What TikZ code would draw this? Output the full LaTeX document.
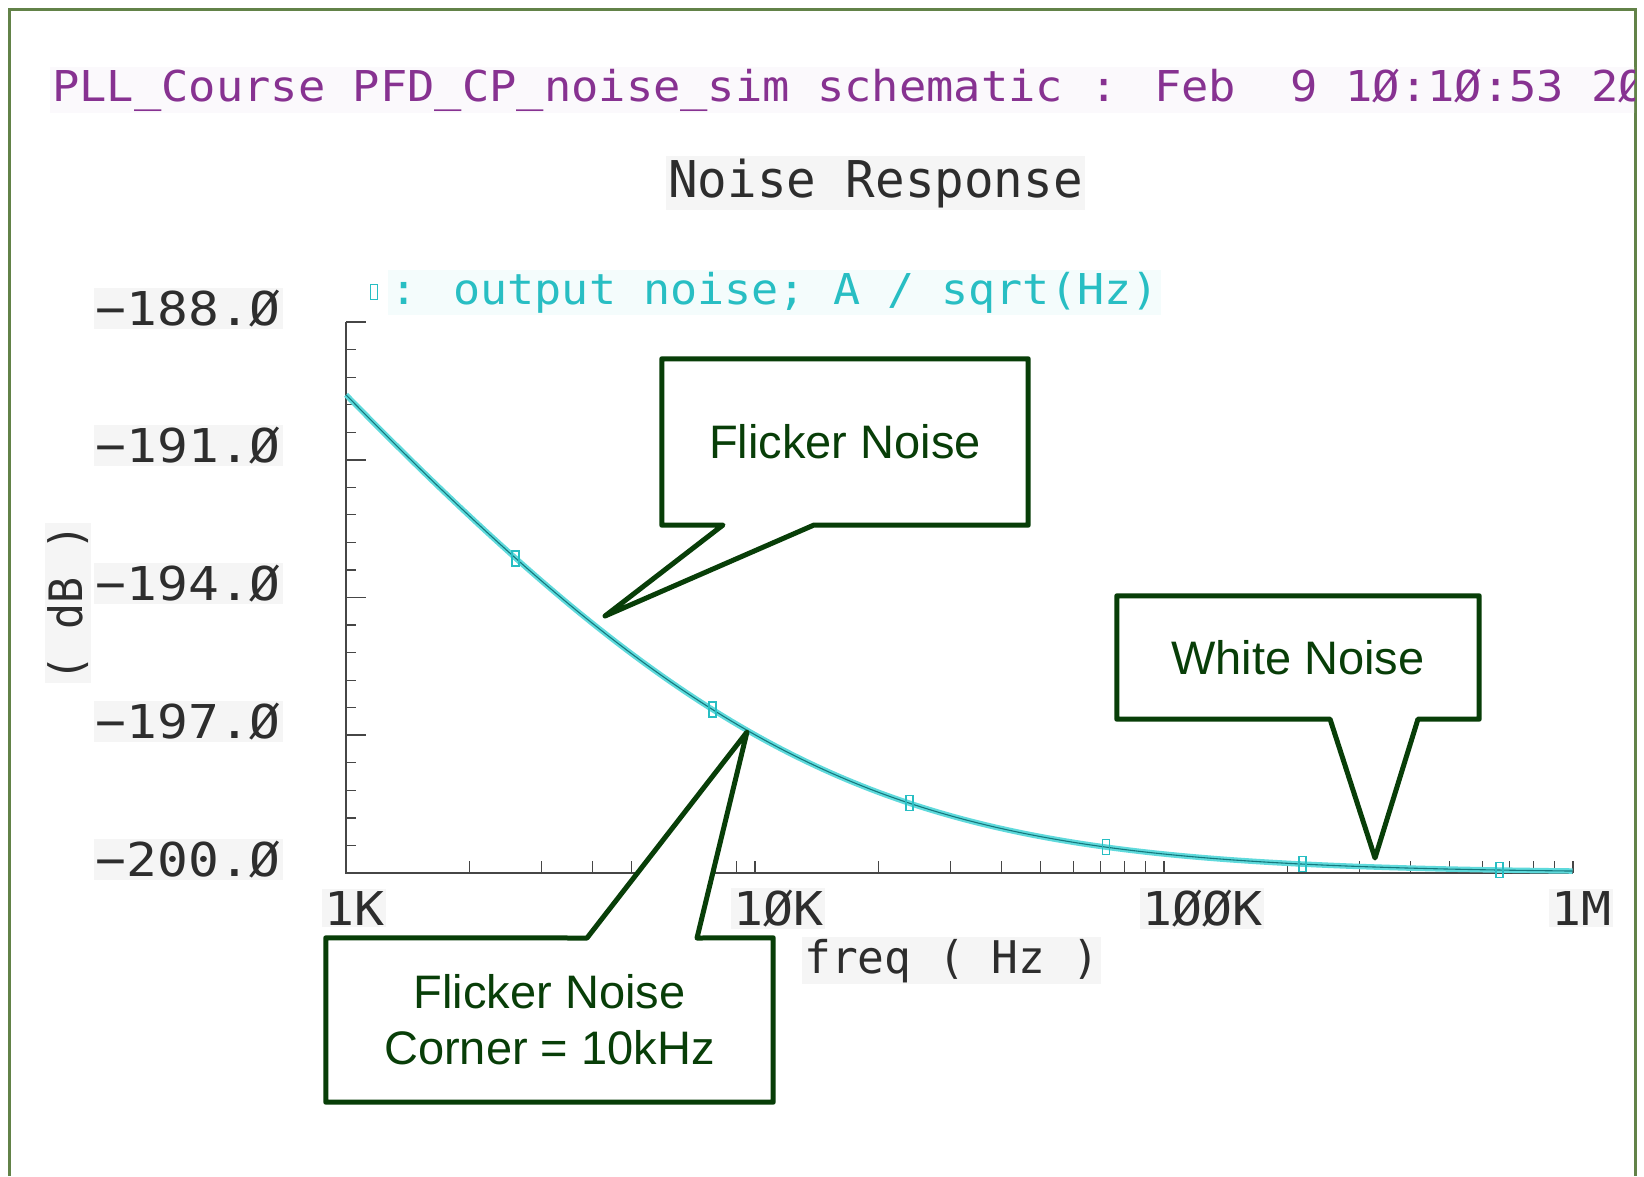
\documentclass[tikz,border=0pt]{standalone}
\usepackage{fontspec}
\setmainfont{Liberation Sans}
\newfontfamily\cadfont{DejaVu Sans Mono}
\usetikzlibrary{calc}
\definecolor{frameg}{RGB}{98,130,72}
\definecolor{callg}{RGB}{8,62,8}
\definecolor{titlem}{RGB}{135,50,145}
\definecolor{legc}{RGB}{40,190,195}
\definecolor{curvec}{RGB}{95,218,220}
\definecolor{curved}{RGB}{20,120,125}
\definecolor{axisg}{RGB}{70,70,70}
\definecolor{labelk}{RGB}{45,45,45}
\newcommand{\cadtext}[3]{\scalebox{#2}[1]{\fontsize{#1}{#1}\cadfont #3}}
\begin{document}
\begin{tikzpicture}[x=1pt,y=-1pt,
  lab/.style={inner sep=2, text=labelk, fill=black!4},
  marker/.style={draw=legc, line width=1.6, minimum width=7, minimum height=15, inner sep=0},
  cbox/.style={inner sep=0, draw=none},
  callout/.style={draw=callg, line width=5, fill=white, line join=round},
  calltext/.style={text=callg, font=\fontsize{47}{56}\selectfont, align=center, inner sep=0},
  axisline/.style={draw=axisg, line width=1.6}]
\useasboundingbox (0,0) rectangle (1644,1176);
\fill[white] (0,0) rectangle (1644,1176);
% frame
\draw[frameg, line width=3] (9,1176) -- (9,9) -- (1635,9) -- (1635,1176);
% title
\begin{scope}
\clip (10,10) rectangle (1634,1176);
\node[anchor=base west, inner sep=2, text=titlem, fill=titlem!3] (title) at (50,101)
  {\cadtext{42.5}{1.068}{PLL\_Course PFD\_CP\_noise\_sim schematic : Feb\ \ 9 1Ø:1Ø:53 2Ø}};
\end{scope}
\node[lab, anchor=base west] (heading) at (666,197) {\cadtext{50.7}{0.97}{Noise Response}};
% legend
\node[marker] (legmark) at (374,292) {};
\node[anchor=base west, inner sep=2, text=legc, fill=legc!5] (legtext) at (388,304)
  {\cadtext{42.5}{1.06}{: output noise; A / sqrt(Hz)}};
% axes
\coordinate (ytop) at (346,322);
\coordinate (origin) at (346,873);
\coordinate (xend) at (1573,873);
\draw[axisline] (ytop) -- (origin) -- (xend);
\foreach \k in {0,...,20}{
  \draw[axisline, line width=1.2] (346,{322+27.55*\k}) -- (356,{322+27.55*\k});
}
\foreach \k in {0,...,4}{
  \draw[axisline] (346,{322+137.75*\k}) -- (366,{322+137.75*\k});
}
\foreach \d in {0,1,2}{
  \foreach \m in {2,...,10}{
    \draw[axisline, line width=1.2] ({346+409*(\d+log10(\m))},873) -- ({346+409*(\d+log10(\m))},861);
  }
}
% y labels
\foreach \v/\k in {188/0,191/1,194/2,197/3,200/4}{
  \node[lab, anchor=base east] (yl\k) at (283,{322+137.75*\k+3}) {\cadtext{46.6}{1.1}{−\v.Ø}};
}
% x labels
\foreach \t/\k in {1K/0,1ØK/1,1ØØK/2,1M/3}{
  \node[lab, anchor=base west] (xl\k) at ({346+409*\k-24},925) {\cadtext{46.6}{1.07}{\t}};
}
\node[lab, anchor=base west] (xtitle) at (802,973) {\cadtext{45}{0.99}{freq ( Hz )}};
\node[lab, rotate=90] (ytitle) at (68,603) {\cadtext{46}{0.94}{( dB )}};
% curve
\draw[curvec, line width=5.5] plot[domain=0:3, samples=160] ({346+409*\x},{873-459.2*log10(1+10^(1-\x))});
\draw[curved, line width=1.1] plot[domain=0:3, samples=160] ({346+409*\x},{873-459.2*log10(1+10^(1-\x))});
\foreach \k in {0,...,5}{
  \pgfmathsetmacro\u{0.415+0.481*\k}
  \pgfmathsetmacro\mx{346+409*\u}
  \pgfmathsetmacro\my{873-459.2*log10(1+10^(1-\u))}
  \node[marker] (m\k) at (\mx,\my) {};
}
% callout: Flicker Noise
\node[cbox, minimum width=366, minimum height=166] (fnbox) at (845,442) {};
\coordinate (fnL) at (723,525);
\coordinate (fnR) at (814,525);
\coordinate (fnTip) at (605,616);
\draw[callout] (fnbox.north west) -- (fnbox.north east) -- (fnbox.south east) -- (fnR) -- (fnTip) -- (fnL) -- (fnbox.south west) -- cycle;
\node[calltext] (fn) at (fnbox.center) {Flicker Noise};
% callout: White Noise
\node[cbox, minimum width=362, minimum height=123] (wnbox) at (1298,657.5) {};
\coordinate (wnL) at (1330,719);
\coordinate (wnR) at (1418,719);
\coordinate (wnTip) at (1375,858);
\draw[callout] (wnbox.north west) -- (wnbox.north east) -- (wnbox.south east) -- (wnR) -- (wnTip) -- (wnL) -- (wnbox.south west) -- cycle;
\node[calltext] (wn) at (wnbox.center) {White Noise};
% callout: corner
\node[cbox, minimum width=447, minimum height=164] (cnbox) at (549.5,1020) {};
\coordinate (cnL) at (587,938);
\coordinate (cnR) at (697,938);
\coordinate (cnTip) at (747,732);
\draw[callout] (cnbox.north west) -- (cnL) -- (cnTip) -- (cnR) -- (cnbox.north east) -- (cnbox.south east) -- (cnbox.south west) -- cycle;
\node[calltext] (cn) at (cnbox.center) {Flicker Noise\\Corner = 10kHz};
\end{tikzpicture}
\end{document}
